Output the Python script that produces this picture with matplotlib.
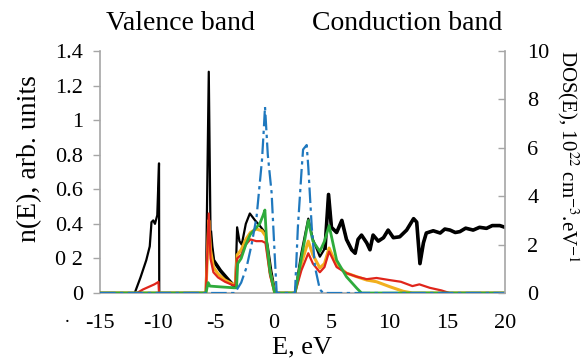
import matplotlib
matplotlib.use("Agg")
import matplotlib.pyplot as plt
import numpy as np

plt.rcParams['font.family'] = ['Liberation Serif', 'DejaVu Serif']
plt.rcParams['mathtext.fontset'] = 'stix'

# ---- data (E in eV, n(E) in arb. units) ----
black_E = [-15, -12, -11.5, -11.0, -10.7, -10.55, -10.4, -10.25, -10.05, -9.9, -9.88,
           -5.85, -5.6, -5.45, -5.35, -5.2, -4.6, -4.05, -3.5, -3.3, -3.15, -2.95, -2.75,
           -2.4, -2.05, -1.6, -1.2, -0.75, -0.5, -0.2, 0.15,
           1.85, 2.4, 3.0, 3.4, 4.0, 4.45, 4.75, 5.0, 5.45, 5.9, 6.3, 6.75, 7.05, 7.3,
           7.6, 8.05, 8.33, 8.6, 9.05, 9.5, 9.9, 10.35, 10.9, 11.5, 12.1, 12.37, 12.65,
           12.95, 13.2, 13.8, 14.4, 14.8, 15.25, 15.7, 16.1, 16.6, 17.25, 17.8, 18.4,
           18.9, 19.55, 20]
black_n = [0, 0, 0.09, 0.19, 0.27, 0.41, 0.42, 0.40, 0.45, 0.75, 0,
           0, 1.28, 0.35, 0.27, 0.19, 0.13, 0.087, 0.046, 0.045, 0.38, 0.30, 0.28,
           0.40, 0.46, 0.42, 0.39, 0.35, 0.27, 0.13, 0,
           0, 0.23, 0.43, 0.31, 0.21, 0.26, 0.57, 0.38, 0.35, 0.42, 0.31, 0.25, 0.23, 0.31,
           0.335, 0.29, 0.25, 0.335, 0.30, 0.32, 0.364, 0.32, 0.325, 0.364, 0.43, 0.41, 0.17,
           0.29, 0.347, 0.36, 0.347, 0.37, 0.364, 0.35, 0.355, 0.375, 0.364, 0.38, 0.374,
           0.39, 0.39, 0.38]

orange_E = [-15, -5.85, -5.6, -5.45, -5.2, -4.8, -4.2, -3.5, -3.3, -3.15, -2.8, -2.4, -2.0,
            -1.5, -1.0, -0.7, -0.3, 0.1, 1.85, 2.4, 3.0, 3.4, 4.0, 4.4, 4.8, 5.45, 6.3,
            7.2, 8.05, 8.9, 10.06, 11.2, 12, 20]
orange_n = [0, 0, 0.42, 0.25, 0.15, 0.11, 0.075, 0.05, 0.05, 0.22, 0.25, 0.31, 0.35,
            0.37, 0.36, 0.33, 0.12, 0, 0, 0.17, 0.30, 0.22, 0.145, 0.17, 0.26, 0.16, 0.115,
            0.094, 0.075, 0.065, 0.036, 0.01, 0, 0]

red_E = [-15, -11.8, -11.3, -10.8, -10.3, -9.95, -9.9, -5.85, -5.6, -5.45, -5.2, -4.8,
         -4.2, -3.5, -3.3, -3.15, -2.8, -2.4, -2.0, -1.5, -1.0, -0.7, -0.3, 0.1, 1.85,
         2.4, 3.0, 3.4, 4.0, 4.4, 4.8, 5.45, 6.3, 7.2, 8.05, 8.9, 10.0, 11.0, 12.0,
         12.6, 13.5, 14.5, 15.2, 20]
red_n = [0, 0, 0.02, 0.035, 0.05, 0.064, 0, 0, 0.46, 0.2, 0.12, 0.09,
         0.065, 0.045, 0.045, 0.2, 0.22, 0.28, 0.31, 0.30, 0.30, 0.29, 0.1, 0, 0,
         0.13, 0.23, 0.17, 0.12, 0.15, 0.24, 0.15, 0.115, 0.094, 0.08, 0.087, 0.075,
         0.065, 0.04, 0.05, 0.03, 0.015, 0, 0]

green_E = [-15, -5.85, -5.65, -5.5, -4.5, -3.4, -3.2, -3.1, -2.8, -2.4, -2.0, -1.6, -1.2,
           -0.9, -0.75, -0.6, -0.3, 0.1, 1.85, 2.4, 3.0, 3.4, 4.0, 4.4, 4.8, 5.45, 6.3,
           7.2, 7.6, 20]
green_n = [0, 0, 0.06, 0.04, 0.035, 0.03, 0.03, 0.17, 0.2, 0.28, 0.34, 0.37, 0.40,
           0.45, 0.48, 0.30, 0.12, 0, 0, 0.2, 0.42, 0.3, 0.24, 0.3, 0.39, 0.19, 0.094,
           0.027, 0, 0]

blue_E = [-15, -3.35, -2.8, -2.33, -1.9, -1.47, -1.0, -0.85, -0.74, -0.5, -0.17, 0.12,
          0.27, 1.85, 2.1, 2.42, 2.55, 2.86, 3.0, 3.3, 3.58, 4.0, 4.3, 20]
blue_n = [0, 0, 0.06, 0.15, 0.28, 0.44, 0.77, 0.94, 1.078, 0.8, 0.58, 0.19,
          0, 0, 0.38, 0.71, 0.83, 0.856, 0.73, 0.38, 0.15, 0.02, 0, 0]

x_ticks = [-15, -10, -5, 0, 5, 10, 15, 20]
y_ticks = [0, 0.2, 0.4, 0.6, 0.8, 1.0, 1.2, 1.4]
y_ticklabels = ["0", "0 2", "0.4", "0.6", "0.8", "1", "1.2", "1.4"]
y2_ticks = [0, 2, 4, 6, 8, 10]

fig = plt.figure(figsize=(5.88, 3.6), dpi=100)
ax = fig.add_axes([100/588, 1-293/360, 405/588, 242/360])

gray = '#a6a6a6'
ax.plot(black_E, black_n, color='black', lw=1.6, zorder=3)
bE = np.array(black_E); bn = np.array(black_n)
m = bE >= 4.4
ax.plot(bE[m], bn[m], color='black', lw=2.6, zorder=3)
m2 = (bE >= -5.45) & (bE <= -3.3)
ax.plot(bE[m2], bn[m2], color='black', lw=2.6, zorder=3)
ax.plot(orange_E, orange_n, color='#f2b01e', lw=2.2, zorder=4)
ax.plot(red_E, red_n, color='#e0251b', lw=1.6, zorder=5)
ax.plot(green_E, green_n, color='#2eab3c', lw=2.0, zorder=6)
ax.plot(blue_E, blue_n, color='#1f78be', lw=1.6, ls=(0, (7, 2, 1.5, 2)), zorder=7)

ax.set_xlim(-15, 20)
ax.set_ylim(0, 1.4)
ax.set_xticks(x_ticks)
ax.set_xticklabels([str(v) for v in x_ticks])
ax.set_yticks(y_ticks)
ax.set_yticklabels(y_ticklabels)
for s in ['top', 'right']:
    ax.spines[s].set_visible(False)
for s in ['left', 'bottom']:
    ax.spines[s].set_color(gray)
    ax.spines[s].set_linewidth(1.2)
ax.tick_params(axis='x', length=0, pad=15, labelsize=16)
ax.tick_params(axis='y', direction='out', length=5, width=1, color=gray, pad=7, labelsize=16)

ax2 = ax.twinx()
ax2.set_ylim(0, 10)
ax2.set_yticks(y2_ticks)
ax2.set_yticklabels([str(v) for v in y2_ticks])
for s in ['top', 'left', 'bottom']:
    ax2.spines[s].set_visible(False)
ax2.spines['right'].set_color(gray)
ax2.spines['right'].set_linewidth(1.2)
ax2.tick_params(axis='y', direction='in', length=5, width=1, color=gray, pad=16, labelsize=16)

fig.text(30/588, 1-159/360, "n(E), arb. units", rotation=90, ha='center', va='center', fontsize=20)
fig.text(302/588, 1-347/360, "E, eV", ha='center', va='center', fontsize=19)
fig.text(568/588, 1-156/360, r"DOS(E), 10$^{22}$ cm$^{-3}$.eV$^{-1}$", rotation=270,
         ha='center', va='center', fontsize=15)
fig.text(180/588, 1-23/360, "Valence band", ha='center', va='center', fontsize=20)
fig.text(407/588, 1-23/360, "Conduction band", ha='center', va='center', fontsize=20)
fig.text(67/588, 1-318/360, ".", ha='center', va='center', fontsize=14)

fig.savefig("out.png", dpi=100)
